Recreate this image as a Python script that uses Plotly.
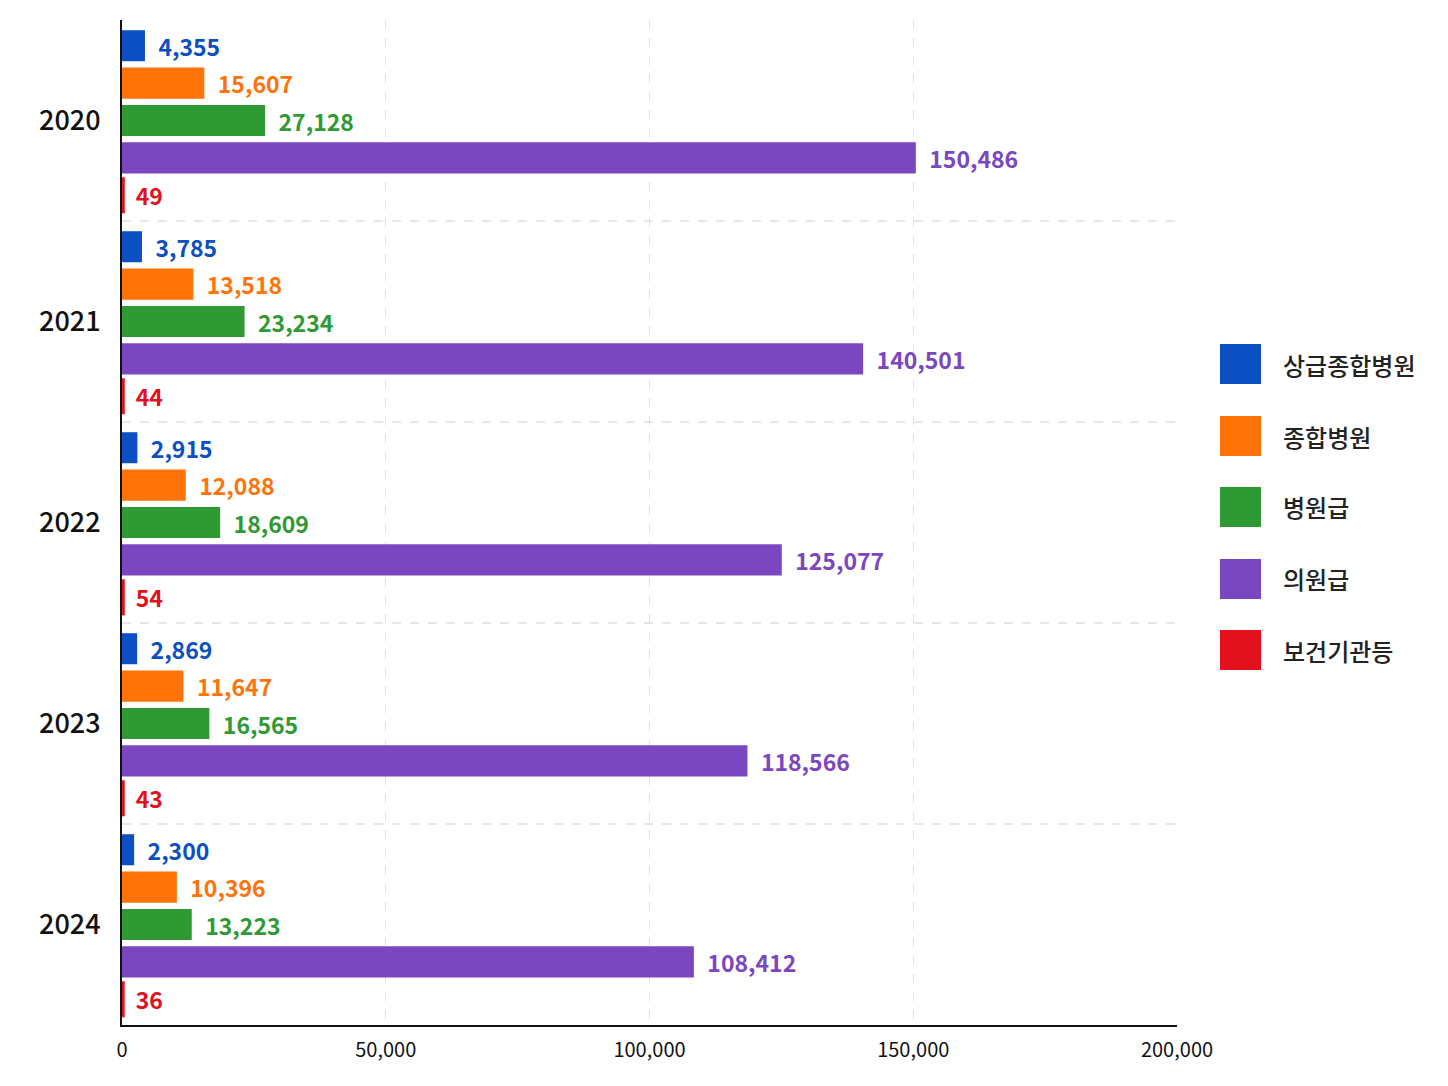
import plotly.graph_objects as go

years = ["2020", "2021", "2022", "2023", "2024"]
series_names = ["상급종합병원", "종합병원", "병원급", "의원급", "보건기관등"]
colors = ["#0c4fc2", "#ff7309", "#2f9a33", "#7a47c0", "#e2111b"]
values = {
    "상급종합병원": [4355, 3785, 2915, 2869, 2300],
    "종합병원": [15607, 13518, 12088, 11647, 10396],
    "병원급": [27128, 23234, 18609, 16565, 13223],
    "의원급": [150486, 140501, 125077, 118566, 108412],
    "보건기관등": [49, 44, 54, 43, 36],
}
x_ticks = [0, 50000, 100000, 150000, 200000]
x_tick_labels = ["0", "50,000", "100,000", "150,000", "200,000"]

FONT = "Noto Sans CJK KR, Noto Sans, sans-serif"

# page offset (body margin) compensation
OFF = 8
W, H = 1448, 1086
L, R, T, B = 122 - OFF, 271 + OFF, 20 - OFF, 61 + OFF
pw, ph = W - L - R, H - T - B


def px_x(px):
    return (px - OFF - L) / pw


def px_y(py):
    return (H - B - (py - OFF)) / ph


fig = go.Figure()
for name, col in zip(series_names, colors):
    small = max(values[name]) < 1000
    fig.add_trace(go.Bar(
        y=years, x=values[name], name=name, orientation="h",
        marker=dict(color=col, line=dict(color=col, width=5 if small else 0)),
        text=[f"{v:,}" for v in values[name]],
        texttemplate="  %{text}",
        textposition="outside",
        constraintext="none",
        textfont=dict(family=FONT, size=23, color=col, weight=600),
        cliponaxis=False,
        showlegend=False,
    ))

shapes = []
for i in range(len(years) - 1):
    shapes.append(dict(type="line", xref="paper", yref="y", x0=0, x1=1.003,
                       y0=i + 0.5, y1=i + 0.5,
                       line=dict(color="#cfcfcf", width=1.2, dash="dash")))

annotations = []
leg_y = [364, 436, 507, 579, 650]
for name, col, py in zip(series_names, colors, leg_y):
    shapes.append(dict(type="rect", xref="paper", yref="paper",
                       x0=px_x(1220), x1=px_x(1261),
                       y0=px_y(py + 20), y1=px_y(py - 20),
                       fillcolor=col, line=dict(width=0)))
    annotations.append(dict(xref="paper", yref="paper", x=px_x(1281),
                            y=px_y(py), text=name, showarrow=False,
                            xanchor="left", yanchor="middle",
                            font=dict(family=FONT, size=24, color="#222222", weight=500)))

fig.update_layout(
    width=W, height=H,
    margin=dict(l=L, r=R, t=T, b=B),
    paper_bgcolor="white", plot_bgcolor="white",
    barmode="group", bargap=0.07, bargroupgap=0.17,
    font=dict(family=FONT, color="#111111"),
    shapes=shapes, annotations=annotations,
    showlegend=False,
    xaxis=dict(range=[0, 200000], tickvals=x_ticks, ticktext=x_tick_labels,
               showgrid=True, gridcolor="#e2e2e2", griddash="dash", gridwidth=1,
               showline=True, linecolor="#111111", linewidth=2,
               zeroline=False, ticks="", tickfont=dict(size=20, color="#111111"),
               ticklabelstandoff=6),
    yaxis=dict(categoryorder="array", categoryarray=years, autorange="reversed",
               showgrid=False, showline=True, linecolor="#111111", linewidth=2,
               ticks="", tickfont=dict(size=27, color="#111111", weight=500),
               ticklabelstandoff=14),
)

fig.write_html("out.html")
